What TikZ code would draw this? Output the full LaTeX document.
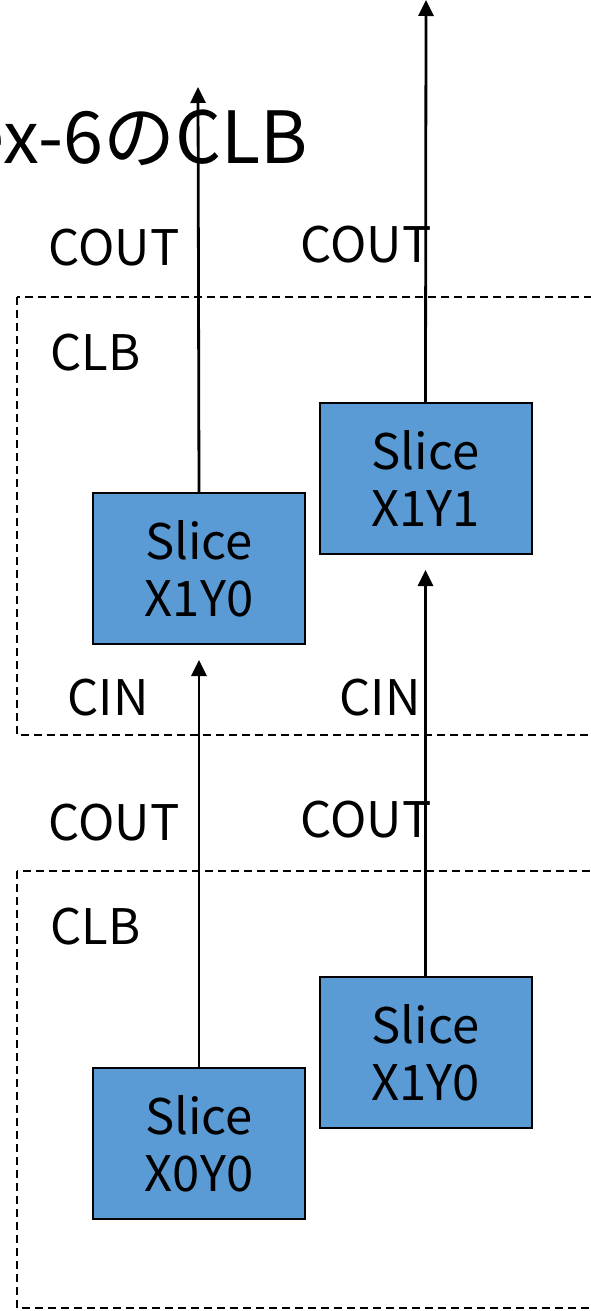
\documentclass[tikz,border=0pt]{standalone}
\usepackage{fontspec}
\setmainfont{Noto Sans CJK JP}
\usetikzlibrary{arrows.meta}
\definecolor{sliceblue}{HTML}{5B9BD5}
\tikzset{
	slice/.style={draw, line width=1pt, fill=sliceblue, minimum width=106pt, minimum height=75.5pt,
		align=center, inner sep=0pt, font=\fontsize{24.5}{28.5}\selectfont},
	lbl/.style={inner sep=0pt, font=\fontsize{24.5}{28}\selectfont},
	clbframe/.style={line width=0.9pt, dash pattern=on 4pt off 2.5pt},
	carry/.style={line width=1.4pt, -{Triangle[length=8pt, width=7.5pt]}},
}
\begin{document}
\begin{tikzpicture}[x=0.5pt, y=-0.5pt]
		\useasboundingbox (0, 0) rectangle (590, 1311);
		\node[inner sep=0pt, anchor=base east, font=\fontsize{36}{40}\selectfont] (title) at (308, 163) {ex-6のCLB};
		% the two CLBs, stacked
		\foreach \top/\bot/\name in {297/735/clbA, 871/1308/clbB} {
			\draw[clbframe] (17, \top) rectangle (640, \bot);
			\node[lbl, anchor=base west] (\name) at (50, \top + 73) {CLB};
		}
		% slices
		\node[slice] (sA0) at (199, 568.5) {Slice\\X1Y0};
		\node[slice] (sA1) at (425.5, 478.5) {Slice\\X1Y1};
		\node[slice] (sB0) at (199, 1143.5) {Slice\\X0Y0};
		\node[slice] (sB1) at (425.5, 1052.5) {Slice\\X1Y0};
		% carry chain
		\coordinate (outA0) at (198, 87);
		\coordinate (outA1) at (426, 0);
		\draw[carry] (sA0.north) -- (outA0);
		\draw[carry] (sA1.north) -- (outA1);
		\draw[carry, shorten >=7.5pt] (sB0.north) -- (sA0.south);
		\draw[carry, shorten >=7.5pt] (sB1.north) -- (sA1.south);
		\node[lbl, anchor=base] (coutA0) at (114, 265) {COUT};
		\node[lbl, anchor=base] (coutA1) at (366, 262) {COUT};
		\node[lbl, anchor=base] (cinA0) at (108, 715) {CIN};
		\node[lbl, anchor=base] (cinA1) at (380, 715) {CIN};
		\node[lbl, anchor=base] (coutB0) at (114, 840) {COUT};
		\node[lbl, anchor=base] (coutB1) at (366, 837) {COUT};
	\end{tikzpicture}
\end{document}
